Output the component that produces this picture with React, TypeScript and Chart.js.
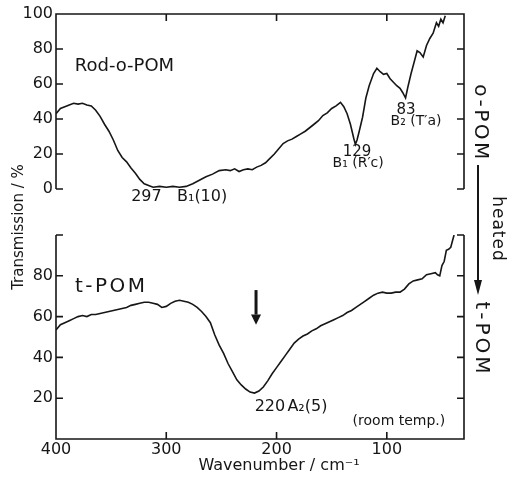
import React, { useEffect, useRef } from 'react';
import { Chart, registerables } from 'chart.js';

Chart.register(...registerables);

// ---------- data ----------
const topWavenumber = [400,396,392,388,384,380,376,372,368,364,360,356,352,348,344,340,336,332,328,324,320,316,312,306,300,294,288,282,276,270,264,258,252,246,242,238,234,230,226,222,218,214,210,206,202,198,194,190,186,182,178,174,170,166,162,158,154,150,146,142,139,136,133,130,128.5,127,125,122,119,116,112,109,106,103,100,97,94,91,88,85.5,83,81,78,75,72.5,70,67,64,61,58,55,53,51,49,47];
const topTransmission = [43,46,47,48,49,48.5,49,48,47.5,45,41.5,37,33,28,22,18,15.5,12,9,5.5,3,2,1,1.5,1,1.5,1,1.5,3,5,7,8.5,10.5,11,10.5,11.5,10,11,11.5,11,12.5,13.5,15,17.5,20,23,26,27.5,28.5,30,31.5,33,35,37,39,42,43.5,46,47.5,49.5,47,43,37,29,25.5,28,33,41,52,59,66,69,67,65.5,66,63,61,59,57.5,55,52,58,66,73,79,78,75.5,82,86,89,95,93,97,95,99];

const bottomWavenumber = [400,396,392,388,384,380,376,372,368,364,360,356,352,348,344,340,336,332,328,324,320,316,312,308,304,300,296,292,288,284,280,276,272,268,264,260,256,252,248,244,240,236,232,228,224,220,216,212,208,204,200,196,192,188,184,180,176,172,168,164,160,156,152,148,144,140,136,132,128,124,120,116,112,108,104,100,96,92,88,84,80,76,72,68,64,60,56,54,52,50,48,46,44,42,40,39];
const bottomTransmission = [53.5,56,57,58,59,60,60.5,60,61,61,61.5,62,62.5,63,63.5,64,64.5,65.5,66,66.5,67,67,66.5,66,64.5,65,66.5,67.5,68,67.5,67,66,64.5,62.5,60,57,51,46,42,37,33,29,26.5,24.5,23,22.5,23.5,25.5,28.5,32,35,38,41,44,47,49,50.5,51.5,53,54,55.5,56.5,57.5,58.5,59.5,60.5,62,63,64.5,66,67.5,69,70.5,71.5,72,71.5,71.5,72,72,73.5,76,77.5,78,78.5,80.5,81,81.5,80.5,80,85,87,92.5,93,94,98,100];

const xTickValues = [400, 300, 200, 100];
const yTickValues = [0, 20, 40, 60, 80, 100];
const xRange = [30, 400];
const yRange = [0, 100];

// ---------- style ----------
const FONT = '"DejaVu Sans", sans-serif';
const INK = '#161616';
const W = 508;
const H = 477;
const TICK = 7;

function drawText(ctx: CanvasRenderingContext2D, text: string, x: number, y: number, size: number,
  opts: { align?: CanvasTextAlign; rotate?: number; spacing?: number } = {}) {
  ctx.save();
  ctx.translate(x, y);
  if (opts.rotate) ctx.rotate(opts.rotate);
  ctx.font = `${size}px ${FONT}`;
  ctx.fillStyle = INK;
  ctx.textAlign = opts.align ?? 'center';
  ctx.textBaseline = 'middle';
  if (opts.spacing) (ctx as any).letterSpacing = `${opts.spacing}px`;
  ctx.fillText(text, 0, 0);
  ctx.restore();
}

type Note = { text: string; v: number; t: number; size: number; align?: CanvasTextAlign; spacing?: number };

const topNotes: Note[] = [
  { text: 'Rod-o-POM', v: 383, t: 70, size: 18, align: 'left' },
  { text: '297', v: 318, t: -4.2, size: 16 },
  { text: 'B₁(10)', v: 267.5, t: -4.2, size: 16 },
  { text: '129', v: 127, t: 21, size: 15 },
  { text: 'B₁ (R′c)', v: 126, t: 14.6, size: 14 },
  { text: '83', v: 82.6, t: 45, size: 15 },
  { text: 'B₂ (T′a)', v: 73.5, t: 38.5, size: 14 },
];

const bottomNotes: Note[] = [
  { text: 't-POM', v: 382.8, t: 74.5, size: 20, align: 'left', spacing: 2.5 },
  { text: '220', v: 206, t: 15.7, size: 16 },
  { text: 'A₂(5)', v: 172, t: 15.7, size: 16 },
  { text: '(room temp.)', v: 89, t: 8.8, size: 14 },
];

function drawNotes(chart: any, notes: Note[]) {
  const x = chart.scales.x;
  const y = chart.scales.y;
  for (const n of notes) {
    drawText(chart.ctx, n.text, x.getPixelForValue(n.v), y.getPixelForValue(n.t), n.size, { align: n.align, spacing: n.spacing });
  }
}

const topPanelPlugin = {
  id: 'topPanel',
  afterDraw(chart: any) {
    const { ctx, chartArea: a } = chart;
    const x = chart.scales.x;
    const y = chart.scales.y;
    ctx.save();
    ctx.strokeStyle = INK;
    ctx.lineWidth = 1.6;
    ctx.beginPath();
    ctx.moveTo(a.left, a.bottom);
    ctx.lineTo(a.left, a.top);
    ctx.lineTo(a.right, a.top);
    ctx.lineTo(a.right, a.bottom);
    for (const v of yTickValues) {
      const py = y.getPixelForValue(v);
      ctx.moveTo(a.left, py); ctx.lineTo(a.left + TICK, py);
      ctx.moveTo(a.right, py); ctx.lineTo(a.right - TICK, py);
    }
    for (const v of xTickValues) {
      const px = x.getPixelForValue(v);
      if (px - a.left < 2) continue;
      ctx.moveTo(px, a.top); ctx.lineTo(px, a.top + TICK);
    }
    ctx.stroke();
    ctx.restore();
    drawNotes(chart, topNotes);
  },
};

const bottomPanelPlugin = {
  id: 'bottomPanel',
  afterDraw(chart: any) {
    const { ctx, chartArea: a } = chart;
    const x = chart.scales.x;
    const y = chart.scales.y;
    ctx.save();
    ctx.strokeStyle = INK;
    ctx.lineWidth = 1.6;
    ctx.beginPath();
    ctx.moveTo(a.left, a.top);
    ctx.lineTo(a.left, a.bottom);
    ctx.lineTo(a.right, a.bottom);
    ctx.lineTo(a.right, a.top);
    for (const v of yTickValues) {
      const py = y.getPixelForValue(v);
      ctx.moveTo(a.left, py); ctx.lineTo(a.left + TICK, py);
      ctx.moveTo(a.right, py); ctx.lineTo(a.right - TICK, py);
    }
    for (const v of xTickValues) {
      const px = x.getPixelForValue(v);
      if (px - a.left < 2) continue;
      ctx.moveTo(px, a.bottom); ctx.lineTo(px, a.bottom - TICK);
    }
    ctx.stroke();

    // arrow marking the A2 mode
    const ax = x.getPixelForValue(218.6);
    const aTop = y.getPixelForValue(73);
    const aBase = y.getPixelForValue(61);
    const aTip = y.getPixelForValue(56);
    ctx.lineWidth = 3;
    ctx.beginPath();
    ctx.moveTo(ax, aTop);
    ctx.lineTo(ax, aBase);
    ctx.stroke();
    ctx.fillStyle = INK;
    ctx.beginPath();
    ctx.moveTo(ax - 5, aBase);
    ctx.lineTo(ax + 5, aBase);
    ctx.lineTo(ax, aTip);
    ctx.closePath();
    ctx.fill();

    // right side: o-POM --heated--> t-POM
    ctx.lineWidth = 2;
    ctx.beginPath();
    ctx.moveTo(478, 165);
    ctx.lineTo(478, 282);
    ctx.stroke();
    ctx.beginPath();
    ctx.moveTo(474, 280);
    ctx.lineTo(482, 280);
    ctx.lineTo(478, 295);
    ctx.closePath();
    ctx.fill();
    ctx.restore();

    drawNotes(chart, bottomNotes);
    drawText(ctx, 'o-POM', 480, 123, 20, { rotate: Math.PI / 2, spacing: 2.5 });
    drawText(ctx, 'heated', 497, 229, 17, { rotate: Math.PI / 2, spacing: 1 });
    drawText(ctx, 't-POM', 481, 339, 20, { rotate: Math.PI / 2, spacing: 3 });

    // axis titles spanning the figure
    drawText(ctx, 'Transmission / %', 19, 227, 15, { rotate: -Math.PI / 2 });
    drawText(ctx, 'Wavenumber / cm⁻¹', 279, 466, 16);
  },
};

function makeConfig(wn: number[], tr: number[], bottom: boolean, plugin: any): any {
  return {
    type: 'line',
    data: {
      datasets: [{
        data: wn.map((v, i) => ({ x: v, y: tr[i] })),
        borderColor: INK,
        borderWidth: 1.6,
        pointRadius: 0,
        tension: 0,
        fill: false,
      }],
    },
    options: {
      animation: false,
      responsive: false,
      maintainAspectRatio: false,
      events: [],
      layout: {
        padding: bottom
          ? { left: 0, right: 44, top: 235, bottom: 0 }
          : { left: 0, right: 44, top: 14, bottom: 250 },
      },
      plugins: { legend: { display: false }, tooltip: { enabled: false } },
      scales: {
        x: {
          type: 'linear',
          reverse: true,
          min: xRange[0],
          max: xRange[1],
          display: bottom,
          grid: { display: false, drawTicks: false },
          border: { display: false },
          afterBuildTicks: (s: any) => { s.ticks = xTickValues.map((value) => ({ value })); },
          afterFit: (s: any) => { s.height = 38; },
          ticks: {
            font: { family: FONT, size: 16 },
            color: INK,
            padding: 1,
            maxRotation: 0,
            autoSkip: false,
            callback: (v: any) => String(v),
          },
        },
        y: {
          type: 'linear',
          min: yRange[0],
          max: yRange[1],
          grid: { display: false, drawTicks: false },
          border: { display: false },
          afterBuildTicks: (s: any) => { s.ticks = yTickValues.map((value) => ({ value })); },
          afterFit: (s: any) => { s.width = 56; },
          ticks: {
            font: { family: FONT, size: 16 },
            color: INK,
            padding: 3,
            callback: (v: any) => (bottom && (v === 0 || v === 100) ? '' : String(v)),
          },
        },
      },
    },
    plugins: [plugin],
  };
}

export default function App() {
  const topRef = useRef<HTMLCanvasElement>(null);
  const bottomRef = useRef<HTMLCanvasElement>(null);

  useEffect(() => {
    const a = new Chart(topRef.current as HTMLCanvasElement, makeConfig(topWavenumber, topTransmission, false, topPanelPlugin));
    const b = new Chart(bottomRef.current as HTMLCanvasElement, makeConfig(bottomWavenumber, bottomTransmission, true, bottomPanelPlugin));
    return () => { a.destroy(); b.destroy(); };
  }, []);

  const canvasStyle: React.CSSProperties = { position: 'absolute', left: 0, top: 0, width: W, height: H, display: 'block' };
  return (
    <div style={{ position: 'absolute', left: 0, top: 0, width: W, height: H, background: '#fff' }}>
      <canvas ref={topRef} width={W} height={H} style={canvasStyle} />
      <canvas ref={bottomRef} width={W} height={H} style={canvasStyle} />
    </div>
  );
}
